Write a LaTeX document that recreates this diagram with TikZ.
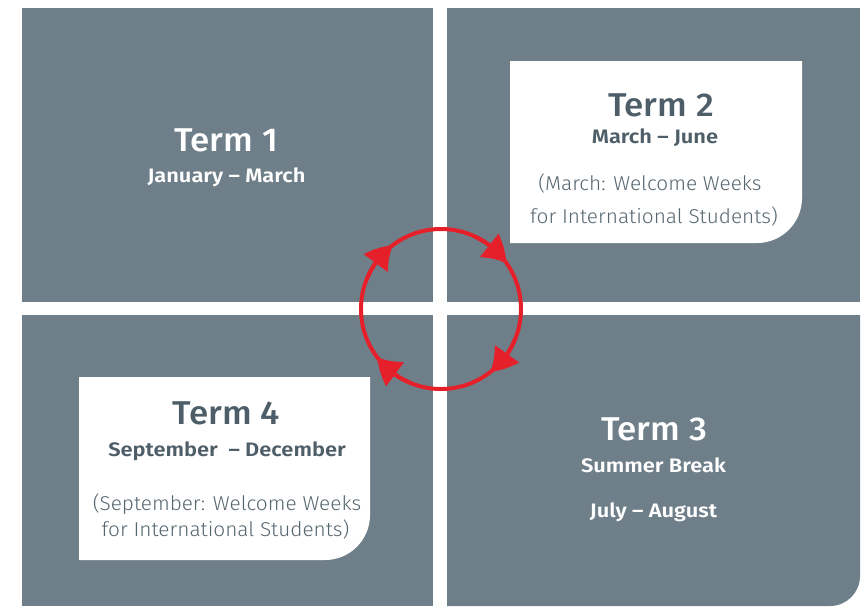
\documentclass[tikz,border=0pt]{standalone}
\usepackage{fontspec}
\setmainfont{Fira Sans}
\newfontfamily\medfont[FakeStretch=1.06,Ligatures=TeX]{Fira Sans Medium}
\newfontfamily\subfont[FakeStretch=1.12,Ligatures=TeX]{Fira Sans SemiBold}
\newfontfamily\bodyfont[FakeStretch=1.04,Ligatures=TeX]{Fira Sans Light}
\usetikzlibrary{arrows.meta,bending}
\definecolor{slate}{HTML}{6F7F89}
\definecolor{darktext}{HTML}{4E5E68}
\definecolor{bodytext}{HTML}{56666F}
\definecolor{cycred}{HTML}{E5202A}
\tikzset{
  panel/.style={fill=slate},
  whitebox/.style={fill=white},
  ttl/.style={anchor=base, inner sep=0pt, font=\medfont\fontsize{33}{33}\selectfont},
  sub/.style={anchor=base, inner sep=0pt, font=\subfont\fontsize{19.5}{19.5}\selectfont},
  body/.style={anchor=base, inner sep=0pt, text=bodytext, font=\bodyfont\fontsize{20}{20}\selectfont},
  cyclering/.style={draw=cycred, line width=4pt},
  cyctip/.style={draw=cycred, line width=4pt, -{Triangle[length=25pt,width=29pt,bend]}, cycred}
}
\begin{document}
\begin{tikzpicture}[x=1pt,y=-1pt]
\useasboundingbox (0,0) rectangle (864,606);
% panels
\fill[panel] (22,8) rectangle (433,302);
\fill[panel] (447,8) rectangle (860,302);
\fill[panel] (22,315) rectangle (433,606);
\begin{scope}
  \clip (447,315) rectangle (860,606);
  \fill[panel, rounded corners=30pt] (400,250) rectangle (860,606);
\end{scope}
% white boxes
\begin{scope}
  \clip (510,61) rectangle (802,243);
  \fill[whitebox, rounded corners=45pt] (450,0) rectangle (802,243);
\end{scope}
\begin{scope}
  \clip (79,377) rectangle (370,560);
  \fill[whitebox, rounded corners=45pt] (20,320) rectangle (370,560);
\end{scope}
% Term 1
\node[ttl, text=white] (t1) at (226,151) {Term 1};
\node[sub, text=white] (t1s) at (226.5,182) {January – March};
% Term 2
\node[ttl, text=darktext] (t2) at (661,116) {Term 2};
\node[sub, text=darktext] (t2s) at (655,143) {March – June};
\node[body] (t2a) at (650,190) {(March: Welcome Weeks};
\node[body] (t2b) at (654,223) {for International Students)};
% Term 3
\node[ttl, text=white] (t3) at (654,440) {Term 3};
\node[sub, text=white] (t3s) at (653.5,472) {Summer Break};
\node[sub, text=white] (t3d) at (653.5,517) {July – August};
% Term 4
\node[ttl, text=darktext] (t4) at (226.5,424) {Term 4};
\node[sub, text=darktext] (t4s) at (227,456) {September\ \ – December};
\node[body] (t4a) at (227,510) {(September: Welcome Weeks};
\node[body] (t4b) at (225.5,536) {for International Students)};
% cycle
\coordinate (c) at (441,309);
\draw[cyclering] (c) circle[radius=80];
\foreach \t in {233,325,52,143} {
  \draw[cyctip] ([shift={(\t-30:80)}]c) arc[start angle=\t-30, end angle=\t, radius=80];
}
\end{tikzpicture}
\end{document}
